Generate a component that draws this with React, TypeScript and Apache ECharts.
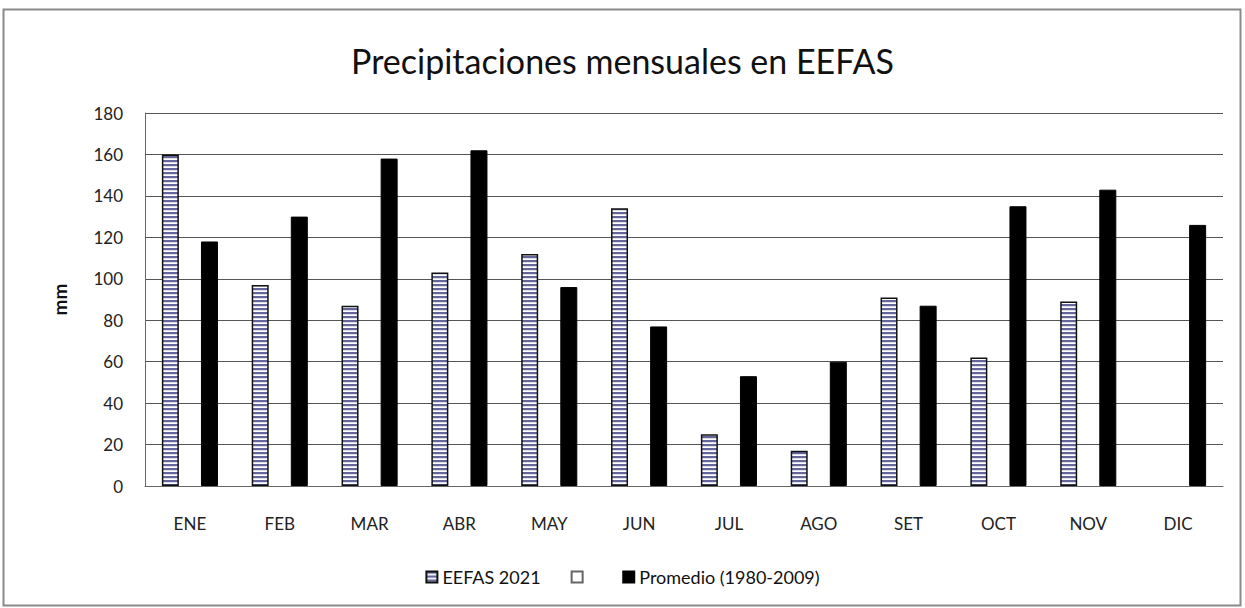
import React, { useEffect, useRef } from "react";
import * as echarts from "echarts";

const months = ["ENE", "FEB", "MAR", "ABR", "MAY", "JUN", "JUL", "AGO", "SET", "OCT", "NOV", "DIC"];
const eefas2021 = [160, 97, 87, 103, 112, 134, 25, 17, 91, 62, 89, null];
const emptySeries = [null, null, null, null, null, null, null, null, null, null, null, null];
const promedio = [118, 130, 158, 162, 96, 77, 53, 60, 87, 135, 143, 126];
const yTicks = { min: 0, max: 180, interval: 20 };

const FONT = "Lato, 'Noto Sans', sans-serif";

function makeStripe(): string {
  const c = document.createElement("canvas");
  c.width = 8;
  c.height = 4;
  const ctx = c.getContext("2d")!;
  ctx.fillStyle = "#ffffff";
  ctx.fillRect(0, 0, 8, 4);
  ctx.fillStyle = "#64669c";
  ctx.fillRect(0, 0, 8, 2);
  ctx.fillStyle = "#c8c9dc";
  ctx.fillRect(0, 2, 8, 0.6);
  return c.toDataURL();
}

export default function App() {
  const ref = useRef<HTMLDivElement>(null);
  useEffect(() => {
    if (!ref.current) return;
    const chart = echarts.init(ref.current, null, { renderer: "svg" });
    const stripe = {
      image: makeStripe(),
      repeat: "repeat",
      imageWidth: 8,
      imageHeight: 4,
    };
    chart.setOption({
      animation: false,
      backgroundColor: "#fff",
      title: {
        text: "Precipitaciones mensuales en EEFAS",
        left: "center",
        top: 38,
        textStyle: { fontFamily: FONT, fontSize: 34, fontWeight: "normal", color: "#111" },
      },
      graphic: [
        {
          type: "rect",
          shape: { x: 3.5, y: 9.5, width: 1237, height: 596 },
          style: { fill: "none", stroke: "#8a8a8a", lineWidth: 2 },
          silent: true,
          z: -1,
        },
      ],
      legend: {
        top: 563,
        left: "center",
        icon: "rect",
        itemWidth: 11,
        itemHeight: 11,
        itemGap: 30,
        textStyle: { fontFamily: FONT, fontSize: 18, color: "#111" },
        data: ["EEFAS 2021", " ", "Promedio (1980-2009)"],
      },
      grid: { left: 145, right: 22, top: 113, bottom: 122 },
      xAxis: {
        type: "category",
        data: months,
        axisLine: { lineStyle: { color: "#666", width: 1 } },
        axisTick: { show: false },
        axisLabel: { fontFamily: FONT, fontSize: 17, color: "#222", margin: 29 },
      },
      yAxis: {
        type: "value",
        min: yTicks.min,
        max: yTicks.max,
        interval: yTicks.interval,
        name: "mm",
        nameLocation: "middle",
        nameRotate: 90,
        nameGap: 76,
        nameTextStyle: { fontFamily: FONT, fontSize: 19, fontWeight: "bold", color: "#111" },
        axisLine: { show: true, lineStyle: { color: "#666", width: 1 } },
        axisTick: { show: false },
        splitLine: { lineStyle: { color: "#555", width: 1 } },
        axisLabel: { fontFamily: FONT, fontSize: 17, color: "#222", margin: 22 },
      },
      series: [
        {
          name: "EEFAS 2021",
          type: "bar",
          data: eefas2021,
          barWidth: 17,
          barGap: "15%",
          itemStyle: {
            color: stripe,
            borderColor: "#111",
            borderWidth: 1.5,
          },
        },
        {
          name: " ",
          type: "bar",
          data: emptySeries,
          barWidth: 17,
          barGap: "15%",
          itemStyle: { color: "#fff", borderColor: "#666", borderType: "dotted", borderWidth: 1 },
        },
        {
          name: "Promedio (1980-2009)",
          type: "bar",
          data: promedio,
          barWidth: 17,
          barGap: "15%",
          itemStyle: { color: "#000", borderColor: "#000", borderWidth: 1 },
        },
      ],
    });
    return () => chart.dispose();
  }, []);
  return <div ref={ref} style={{ position: "fixed", left: 0, top: 0, width: 1245, height: 608 }} />;
}
